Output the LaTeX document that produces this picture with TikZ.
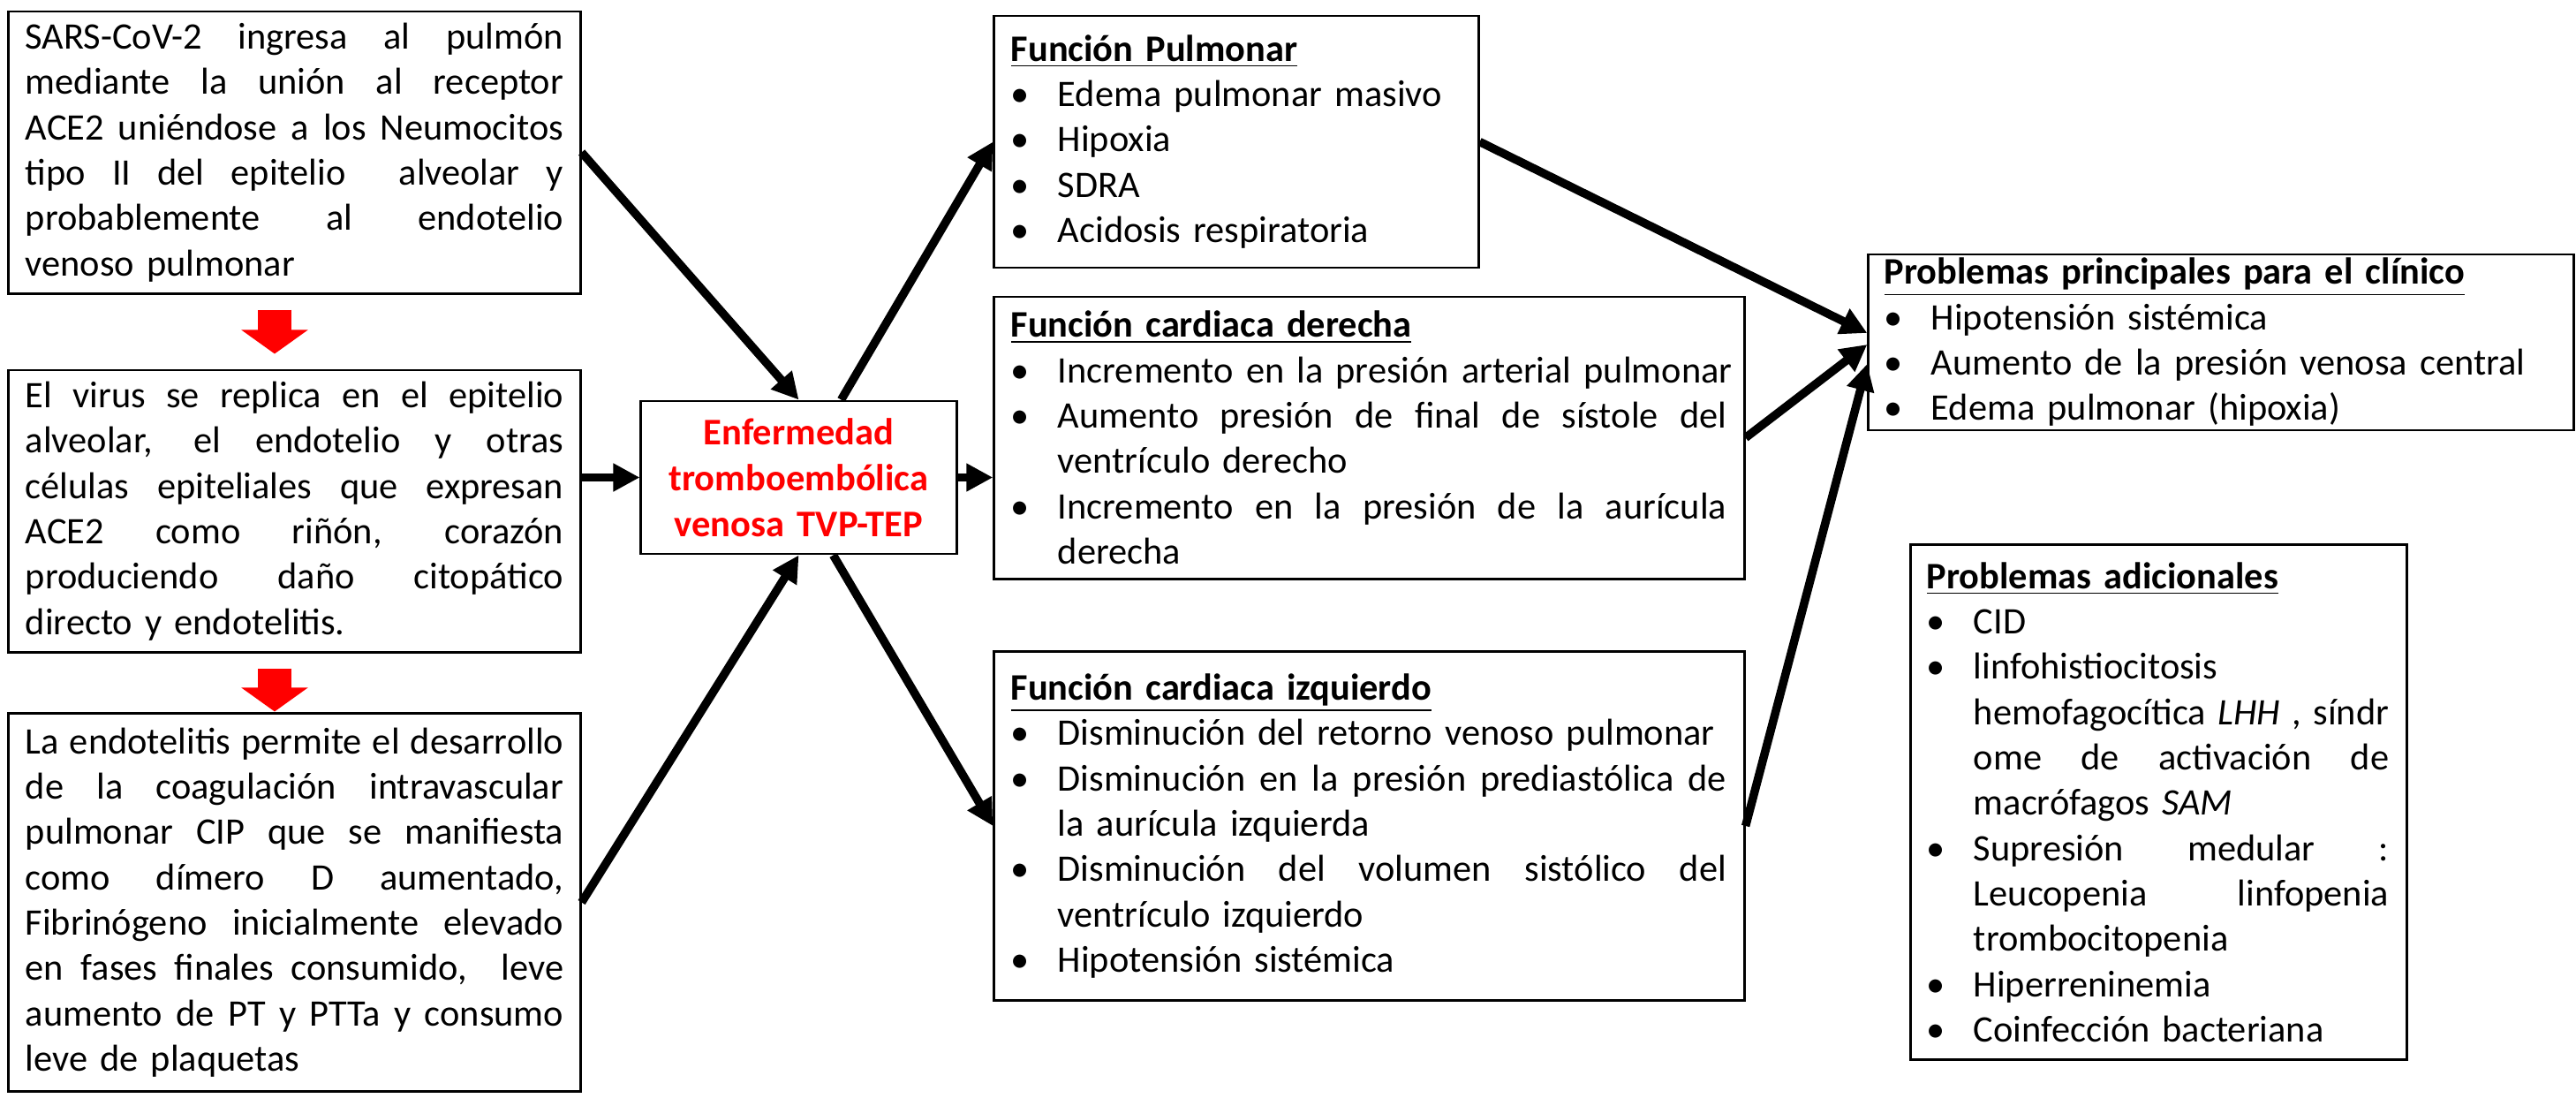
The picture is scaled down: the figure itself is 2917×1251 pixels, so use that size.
\documentclass[tikz,border=0pt]{standalone}
\usepackage{fontspec}
\setmainfont{Carlito}
\usetikzlibrary{arrows.meta}
\newcommand{\jl}[2][\linewidth]{\makebox[#1][s]{\spaceskip=0pt\xspaceskip=0pt #2}}
\newcommand{\bl}{\makebox[0.53cm][l]{\textbullet}}
\newcommand{\ind}{\hspace*{0.53cm}}
\newcommand{\ttl}[1]{\underline{\textbf{#1}}}
\begin{document}
\begin{tikzpicture}[x=0.01cm,y=-0.01cm,
  box/.style={draw=black, line width=0.8pt, inner xsep=0.19cm, inner ysep=0pt,
    font=\fontsize{12.05pt}{14.6pt}\selectfont},
  lbox/.style={box, text width=6.09cm, minimum width=6.47cm, align=left},
  rbox/.style={box, align=left},
  cbox/.style={box, text width=3.19cm, minimum width=3.57cm, minimum height=1.73cm,
    align=center, text=red, font=\fontsize{12.1pt}{14.8pt}\selectfont\bfseries},
  arr/.style={draw=black, line width=0.095cm, -{Triangle[length=0.3cm,width=0.3cm]}},
  redarr/.style={draw=red, line width=0.38cm, shorten <=0.17cm,
    -{Triangle[length=0.27cm,width=0.74cm]}}]
\useasboundingbox (0,0) rectangle (2917,1251);
\fill[white] (0,0) rectangle (2917,1251);

\node[lbox, minimum height=3.19cm] (b1) at (333.5,172.5) {%
\jl{SARS-CoV-2 ingresa al pulmón}\\
\jl{mediante la unión al receptor}\\
\jl{ACE2 uniéndose a los Neumocitos}\\
\jl{tipo II del epitelio\ \ alveolar y}\\
\jl{probablemente al endotelio}\\
\mbox{venoso pulmonar}};

\node[lbox, minimum height=3.19cm] (b2) at (333.5,578.5) {%
\jl{El virus se replica en el epitelio}\\
\jl{alveolar, el endotelio y otras}\\
\jl{células epiteliales que expresan}\\
\jl{ACE2 como riñón, corazón}\\
\jl{produciendo daño citopático}\\
\mbox{directo y endotelitis.}};

\node[lbox, minimum height=4.27cm] (b3) at (333.5,1021.5) {%
\jl{La endotelitis permite el desarrollo}\\
\jl{de la coagulación intravascular}\\
\jl{pulmonar CIP que se manifiesta}\\
\jl{como dímero D aumentado,}\\
\jl{Fibrinógeno inicialmente elevado}\\
\jl{en fases finales consumido,\ \ leve}\\
\jl{aumento de PT y PTTa y consumo}\\
\mbox{leve de plaquetas}};

\node[cbox] (cen) at (904.5,540.5) {Enfermedad\\tromboembólica\\venosa TVP-TEP};

\node[rbox, text width=5.10cm, minimum width=5.48cm, minimum height=2.85cm] (pulm) at (1400,160.5) {%
\ttl{Función Pulmonar}\\
\bl\mbox{Edema pulmonar masivo}\\
\bl\mbox{Hipoxia}\\
\bl\mbox{SDRA}\\
\bl\mbox{Acidosis respiratoria}};

\node[rbox, text width=8.11cm, minimum width=8.49cm, minimum height=3.19cm] (der) at (1550.5,495.5) {%
\ttl{Función cardiaca derecha}\\
\bl\mbox{Incremento en la presión arterial pulmonar}\\
\bl\jl[7.57cm]{Aumento presión de final de sístole del}\\
\ind\mbox{ventrículo derecho}\\
\bl\jl[7.57cm]{Incremento en la presión de la aurícula}\\
\ind\mbox{derecha}};

\node[rbox, text width=8.11cm, minimum width=8.49cm, minimum height=3.94cm] (izq) at (1550.5,935) {%
\ttl{Función cardiaca izquierdo}\\
\bl\mbox{Disminución del retorno venoso pulmonar}\\
\bl\jl[7.57cm]{Disminución en la presión prediastólica de}\\
\ind\mbox{la aurícula izquierda}\\
\bl\jl[7.57cm]{Disminución del volumen sistólico del}\\
\ind\mbox{ventrículo izquierdo}\\
\bl\mbox{Hipotensión sistémica}};

\node[rbox, text width=7.62cm, minimum width=7.98cm, inner xsep=0.18cm, minimum height=1.99cm] (prin) at (2515,387.5) {%
\ttl{Problemas principales para el clínico}\\
\bl\mbox{Hipotensión sistémica}\\
\bl\mbox{Aumento de la presión venosa central}\\
\bl\mbox{Edema pulmonar (hipoxia)}};

\node[rbox, text width=5.25cm, minimum width=5.61cm, inner xsep=0.18cm, minimum height=5.82cm] (adic) at (2444.5,908) {%
\ttl{Problemas adicionales}\\
\bl\mbox{CID}\\
\bl\mbox{linfohistiocitosis}\\
\ind\jl[4.70cm]{hemofagocítica \textit{LHH} , síndr}\\
\ind\jl[4.70cm]{ome de activación de}\\
\ind\mbox{macrófagos \textit{SAM}}\\
\bl\jl[4.70cm]{Supresión medular :}\\
\ind\jl[4.70cm]{Leucopenia linfopenia}\\
\ind\mbox{trombocitopenia}\\
\bl\mbox{Hiperreninemia}\\
\bl\mbox{Coinfección bacteriana}};

\draw[redarr, shorten >=0.17cm] ([xshift=-0.225cm]b1.south) -- ([xshift=-0.225cm]b2.north);
\draw[redarr, shorten >=0.01cm] ([xshift=-0.225cm]b2.south) -- ([xshift=-0.225cm]b3.north);

\draw[arr] (b1.east) -- (cen.north);
\draw[arr] (b2.east |- cen.west) -- (cen.west);
\draw[arr] (b3.east) -- (cen.south);
\draw[arr] ([xshift=0.48cm]cen.north) -- (pulm.west);
\draw[arr] (cen.east) -- (der.west |- cen.east);
\draw[arr] ([xshift=0.39cm]cen.south) -- (izq.west);
\draw[arr] (pulm.east) -- ([yshift=0.105cm]prin.west);
\draw[arr] (der.east) -- ([yshift=-0.025cm]prin.west);
\draw[arr] (izq.east) -- ([yshift=-0.245cm]prin.west);
\end{tikzpicture}
\end{document}
